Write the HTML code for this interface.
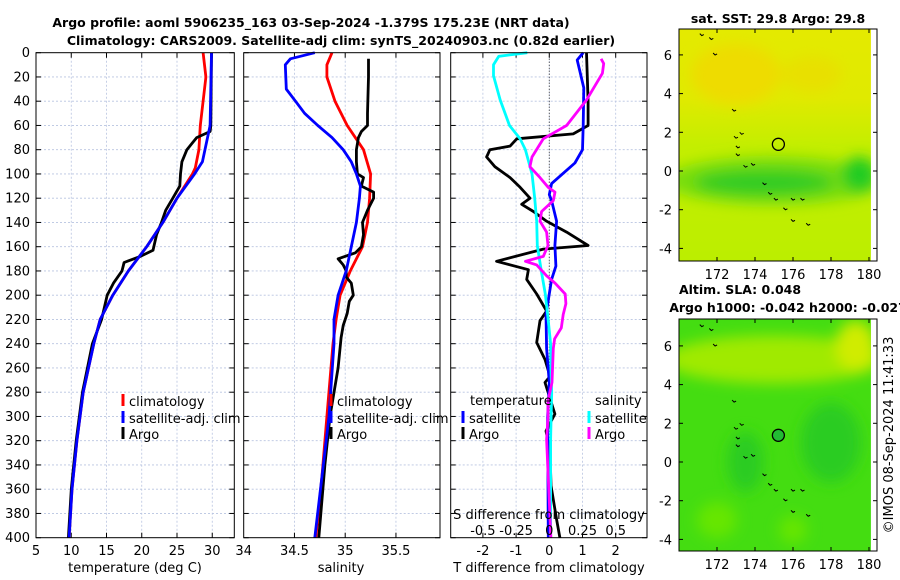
<!DOCTYPE html>
<html><head><meta charset="utf-8"><style>
body{margin:0;background:#fff;}
svg{display:block;font-family:"DejaVu Sans","Liberation Sans",sans-serif;}
</style></head><body>
<svg id="c" width="900" height="580" viewBox="0 0 900 580">
<defs>
<linearGradient id="g1" x1="0" y1="0" x2="0" y2="1">
<stop offset="0" stop-color="#e4ea00"/><stop offset="0.3" stop-color="#e0ea00"/><stop offset="0.5" stop-color="#c4ee00"/><stop offset="1" stop-color="#bcee00"/>
</linearGradient>
</defs>
<text x="311" y="27" font-size="12.5" font-weight="bold" text-anchor="middle">Argo profile: aoml 5906235_163 03-Sep-2024 -1.379S 175.23E (NRT data)</text>
<text x="341" y="45" font-size="12.5" font-weight="bold" text-anchor="middle">Climatology: CARS2009. Satellite-adj clim: synTS_20240903.nc (0.82d earlier)</text>
</svg>
<script>
// ---- data ----
const depthTicks=[0,20,40,60,80,100,120,140,160,180,200,220,240,260,280,300,320,340,360,380,400];
const tempTicks=[5,10,15,20,25,30];
const salTicks=[34,34.5,35,35.5];
const tdiffTicks=[-2,-1,0,1,2];
const sdiffTicks=[-0.5,-0.25,0,0.25,0.5];
const sdiffLabels=["-0.5","-0.25","0","0.25","0.5"];
const lonTicks=[172,174,176,178,180];
const latTicks=[-4,-2,0,2,4,6];

const tClimD=[0,20,60,80,95,100,120,140,160,180,200,220,240,280,320,360,400];
const tClimV=[28.7,29.1,28.3,28.1,27.6,27.2,25.0,23.0,20.7,18.1,15.9,14.1,13.2,11.7,10.8,10.1,9.7];
const tSatD=[0,60,90,100,120,140,160,180,200,220,240,280,320,360,400];
const tSatV=[29.9,29.7,28.6,27.5,25.0,23.0,20.7,18.1,15.9,14.1,13.2,11.7,10.8,10.1,9.7];
const tArgoD=[0,60,65,70,75,80,90,100,110,120,130,140,150,163,168,173,180,190,200,220,240,280,320,360,400];
const tArgoV=[29.9,29.8,29.7,27.8,27.1,26.4,25.7,25.5,25.4,24.4,23.4,22.8,22.1,21.6,19.8,17.5,17.2,16.0,15.1,14.3,13.0,11.6,10.7,10.0,9.6];

const sClimD=[0,10,20,40,60,80,100,120,140,160,180,200,220,240,300,350,400];
const sClimV=[34.87,34.82,34.82,34.90,35.02,35.18,35.25,35.24,35.22,35.17,35.05,34.95,34.91,34.88,34.82,34.77,34.71];
const sSatD=[0,5,10,30,40,50,60,70,80,90,100,110,120,140,160,180,200,220,240,300,350,400];
const sSatV=[34.70,34.46,34.41,34.42,34.51,34.60,34.73,34.87,34.98,35.06,35.11,35.15,35.14,35.11,35.06,35.01,34.93,34.89,34.89,34.84,34.77,34.70];
const sArgoD=[5,20,50,60,65,70,80,90,100,103,110,115,120,130,140,150,160,165,170,175,180,185,190,200,205,215,225,235,260,300,340,400];
const sArgoV=[35.23,35.23,35.22,35.22,35.16,35.13,35.11,35.11,35.12,35.18,35.16,35.28,35.28,35.22,35.17,35.18,35.16,35.10,34.93,34.98,35.01,35.01,35.06,35.08,35.04,35.02,34.98,34.96,34.93,34.85,34.80,34.74];

const dTSatD=[0,6,15,29,60,80,91,97,108,117,122,139,159,176,187,216,244,272,301,400];
const dTSatV=[1.02,0.84,0.92,1.04,1.02,1.0,0.77,0.52,0.07,0,0.07,0.22,0.17,0.2,0.07,-0.1,-0.08,0,-0.05,-0.03];
const dTArgoD=[0,40,60,67,71,77,80,86,94,103,111,120,125,131,139,148,159,162,172,179,187,199,213,221,239,253,267,272,298,312,329,357,385,400];
const dTArgoV=[1.12,1.17,1.17,0.72,-0.98,-1.18,-1.79,-1.89,-1.64,-1.18,-0.88,-0.58,-0.83,-0.48,-0.08,0.52,1.17,-0.18,-1.59,-0.63,-0.68,-0.38,-0.08,-0.28,-0.38,-0.13,0.02,-0.13,0.17,-0.1,0.02,0.05,0.22,0.32];
const dSSatD=[0,3,10,19,39,60,71,80,100,120,139,159,180,199,219,240,260,280,319,400];
const dSSatV=[-0.166,-0.38,-0.42,-0.42,-0.37,-0.30,-0.22,-0.18,-0.13,-0.11,-0.095,-0.09,-0.06,-0.03,-0.01,0.01,0.012,0.018,0.01,0.01];
const dSArgoD=[5,9,17,39,60,71,86,94,103,111,115,122,131,139,148,159,168,172,175,184,190,199,207,216,227,236,244,272,287,301,319,400];
const dSArgoV=[0.39,0.41,0.40,0.28,0.13,-0.045,-0.13,-0.146,-0.07,-0.008,0.043,0.03,-0.058,-0.07,-0.02,-0.01,-0.045,-0.18,-0.095,-0.02,0.043,0.12,0.125,0.105,0.09,0.04,0.03,0.02,-0.01,-0.01,-0.02,0.012];

const floatLon=175.23, floatLat=1.38;

// ---- helpers ----
const NS="http://www.w3.org/2000/svg";
const svg=document.getElementById('c');
function mk(tag,attrs,parent){const e=document.createElementNS(NS,tag);for(const k in attrs)e.setAttribute(k,attrs[k]);(parent||svg).appendChild(e);return e;}
const Y0=52.7, YS=1.2125;
const yD=d=>Y0+d*YS;
const xT=t=>36+(t-5)*7.05;
const xS=s=>243.7+(s-34)*101.5;
const xDT=v=>549.3+v*33.2;
const xDS=v=>549.3+v*132.8;

function panel(x0,x1,name){
  const g=mk('g',{});  
  mk('rect',{x:x0,y:Y0,width:x1-x0,height:yD(400)-Y0,fill:'#fff'},g);
  depthTicks.forEach(d=>{ if(d>0&&d<400) mk('line',{x1:x0,x2:x1,y1:yD(d),y2:yD(d),stroke:'#b8c4e0','stroke-width':0.8,'stroke-dasharray':'2,2'},g);
    mk('line',{x1:x0,x2:x0+5,y1:yD(d),y2:yD(d),stroke:'#000'},g);
    mk('line',{x1:x1-5,x2:x1,y1:yD(d),y2:yD(d),stroke:'#000'},g);});
  return g;
}
function vgrid(g,xs){xs.forEach(x=>{mk('line',{x1:x,x2:x,y1:Y0,y2:yD(400),stroke:'#b8c4e0','stroke-width':0.8,'stroke-dasharray':'2,2'},g);
  mk('line',{x1:x,x2:x,y1:yD(400),y2:yD(400)-5,stroke:'#000'},g);mk('line',{x1:x,x2:x,y1:Y0,y2:Y0+5,stroke:'#000'},g);});}
function border(g,x0,x1){mk('rect',{x:x0,y:Y0,width:x1-x0,height:yD(400)-Y0,fill:'none',stroke:'#000'},g);}
function line(g,D,V,fx,col,name){
  const p=mk('polyline',{points:D.map((d,i)=>fx(V[i]).toFixed(1)+','+yD(d).toFixed(1)).join(' '),fill:'none',stroke:col,'stroke-width':2.8,'stroke-linejoin':'round'},g);
   
}
function txt(g,x,y,s,size,anchor,name){const t=mk('text',{x:x,y:y,'font-size':size||12,'text-anchor':anchor||'start'},g);t.textContent=s;
   return t;}
function legend(g,x,y,col,label,name){mk('rect',{x:x-1.5,y:y-7,width:3,height:12,fill:col},g);txt(g,x+6,y+5,label,13,'start',name);}

depthTicks.forEach(d=>{txt(svg,30,yD(d)+4.5,String(d),13,'end','y-tick-label');});

const p1=panel(36,234.3,'temperature-panel');
vgrid(p1,tempTicks.slice(1).map(xT));
line(p1,tClimD,tClimV,xT,'#ff0000','temperature-climatology-line');
line(p1,tArgoD,tArgoV,xT,'#000','temperature-argo-line');
line(p1,tSatD,tSatV,xT,'#0000ff','temperature-satellite-line');
border(p1,36,234.3);
legend(p1,123,401,'#f00','climatology','legend-climatology');
legend(p1,123,418,'#00f','satellite-adj. clim','legend-satellite-adj');
legend(p1,123,434,'#000','Argo','legend-argo');
tempTicks.forEach(t=>txt(svg,xT(t),555,String(t),13,'middle','x-tick-temperature'));
txt(svg,135,572,'temperature (deg C)',13,'middle','x-axis-title-temperature');

const p2=panel(243.7,440,'salinity-panel');
vgrid(p2,salTicks.slice(1).map(xS));
line(p2,sClimD,sClimV,xS,'#ff0000','salinity-climatology-line');
line(p2,sArgoD,sArgoV,xS,'#000','salinity-argo-line');
line(p2,sSatD,sSatV,xS,'#0000ff','salinity-satellite-line');
border(p2,243.7,440);
legend(p2,331,401,'#f00','climatology','legend-climatology-s');
legend(p2,331,418,'#00f','satellite-adj. clim','legend-satellite-adj-s');
legend(p2,331,434,'#000','Argo','legend-argo-s');
salTicks.forEach(t=>txt(svg,xS(t),555,String(t),13,'middle','x-tick-salinity'));
txt(svg,341,572,'salinity',13,'middle','x-axis-title-salinity');

const p3=panel(450.7,647,'difference-panel');
vgrid(p3,tdiffTicks.map(xDT));
mk('line',{x1:xDT(0),x2:xDT(0),y1:Y0,y2:yD(400),stroke:'#333','stroke-width':1,'stroke-dasharray':'1,2'},p3);
line(p3,dTArgoD,dTArgoV,xDT,'#000','t-diff-argo-line');
line(p3,dTSatD,dTSatV,xDT,'#0000ff','t-diff-satellite-line');
line(p3,dSSatD,dSSatV,xDS,'#00ffff','s-diff-satellite-line');
line(p3,dSArgoD,dSArgoV,xDS,'#ff00ff','s-diff-argo-line');
border(p3,450.7,647);
txt(p3,470,405,'temperature',13,'start','legend-temperature-header');
txt(p3,595,405,'salinity',13,'start','legend-salinity-header');
legend(p3,463,418,'#00f','satellite','legend-t-satellite');
legend(p3,463,434,'#000','Argo','legend-t-argo');
legend(p3,589,418,'#0ff','satellite','legend-s-satellite');
legend(p3,589,434,'#f0f','Argo','legend-s-argo');
txt(p3,549,519,'S difference from climatology',13,'middle','s-diff-axis-title');
sdiffTicks.forEach((t,i)=>txt(p3,xDS(t),535,sdiffLabels[i],13,'middle','s-diff-tick'));
tdiffTicks.forEach(t=>txt(svg,xDT(t),555,String(t),13,'middle','x-tick-tdiff'));
txt(svg,549,572,'T difference from climatology',13,'middle','x-axis-title-tdiff');

// ---- maps ----
const lonX=l=>717+(l-172)*19;
function map(yTop,yBot,lat0y,title1,title2,kind,name){
  const latY=la=>lat0y-la*19.35;
  const g=mk('g',{});  
  const id='clip'+name;
  const cp=mk('clipPath',{id:id},g); mk('rect',{x:679,y:yTop,width:lonX(180.1)-679,height:yBot-yTop},cp);
  const ig=mk('g',{'clip-path':'url(#'+id+')'},g);
  const fid='blur'+name; const f=mk('filter',{id:fid,x:'-50%',y:'-50%',width:'200%',height:'200%'},g); mk('feGaussianBlur',{stdDeviation:7},f);
  if(kind===1){
    mk('rect',{x:679,y:yTop,width:200,height:yBot-yTop,fill:'url(#g1)'},ig);
    const b=mk('g',{filter:'url(#'+fid+')'},ig);
    mk('ellipse',{cx:lonX(173),cy:latY(5),rx:45,ry:30,fill:'#eedc00'},b);
    mk('ellipse',{cx:lonX(177),cy:latY(5),rx:30,ry:18,fill:'#e8e000'},b);
    mk('ellipse',{cx:lonX(175),cy:latY(-0.5),rx:110,ry:24,fill:'#77dd11'},b);
    mk('ellipse',{cx:lonX(174.5),cy:latY(-0.6),rx:70,ry:13,fill:'#33cc22'},b);
    mk('ellipse',{cx:lonX(179.5),cy:latY(-0.2),rx:18,ry:18,fill:'#22cc22'},b);
  } else {
    mk('rect',{x:679,y:yTop,width:200,height:yBot-yTop,fill:'#44dd11'},ig);
    const b=mk('g',{filter:'url(#'+fid+')'},ig);
    mk('ellipse',{cx:lonX(175),cy:latY(5.3),rx:110,ry:24,fill:'#a0ea00'},b);
    mk('ellipse',{cx:lonX(179.3),cy:latY(6),rx:20,ry:25,fill:'#d0ec00'},b);
    mk('ellipse',{cx:lonX(178),cy:latY(1),rx:30,ry:40,fill:'#2acc22'},b);
    mk('ellipse',{cx:lonX(173.5),cy:latY(0),rx:18,ry:30,fill:'#2acc22'},b);
    mk('ellipse',{cx:lonX(172),cy:latY(-3),rx:20,ry:18,fill:'#66e600'},b);
    mk('ellipse',{cx:lonX(176),cy:latY(-3.5),rx:14,ry:14,fill:'#66e600'},b);
  }
  [[171.2,7.1],[171.7,6.9],[171.9,6.1],[172.9,3.2],[173,1.8],[173.1,1.3],[173.3,2.0],[173.1,0.9],[173.5,0.3],[173.9,0.4],[174.5,-0.6],[174.8,-1.1],[175.1,-1.4],[175.6,-1.9],[176,-1.4],[176.5,-1.4],[176,-2.5],[176.8,-2.7]].forEach(p=>{
    const c=mk('path',{d:'M'+(lonX(p[0])-2)+','+latY(p[1])+' l2,2 l2,-1',fill:'none',stroke:'#000','stroke-width':1},ig);
     });
  const m=mk('circle',{cx:lonX(floatLon),cy:latY(floatLat),r:6,fill:kind===2?'#22bb33':'none',stroke:'#000','stroke-width':1.3},g);
   
  mk('rect',{x:679,y:yTop,width:198,height:yBot-yTop,fill:'none',stroke:'#000'},g);
  latTicks.forEach(la=>{const y=latY(la);mk('line',{x1:679,x2:683,y1:y,y2:y,stroke:'#000'},g);mk('line',{x1:873,x2:877,y1:y,y2:y,stroke:'#000'},g);
    txt(g,672,y+5,String(la),13,'end','map-lat-tick');});
  lonTicks.forEach(l=>{const x=lonX(l);mk('line',{x1:x,x2:x,y1:yBot,y2:yBot-4,stroke:'#000'},g);mk('line',{x1:x,x2:x,y1:yTop,y2:yTop+4,stroke:'#000'},g);
    txt(g,x,yBot+18,String(l),13,'middle','map-lon-tick');});
  if(title2){txt(g,740,yTop-25,title1,12.5,'middle','map-title').setAttribute('font-weight','bold');
    txt(g,788,yTop-7,title2,12.5,'middle','map-subtitle').setAttribute('font-weight','bold');}
  else txt(g,778,yTop-6,title1,12.5,'middle','map-title').setAttribute('font-weight','bold');
}
map(29,261,171,'sat. SST: 29.8 Argo: 29.8',null,1,'sst-map');
map(319,551,462,'Altim. SLA: 0.048','Argo h1000: -0.042 h2000: -0.027',2,'sla-map');
const cr=txt(svg,0,0,'©IMOS 08-Sep-2024 11:41:33',13,'middle','copyright-timestamp');
cr.setAttribute('transform','translate(893,435) rotate(-90)');
</script>
</body></html>
